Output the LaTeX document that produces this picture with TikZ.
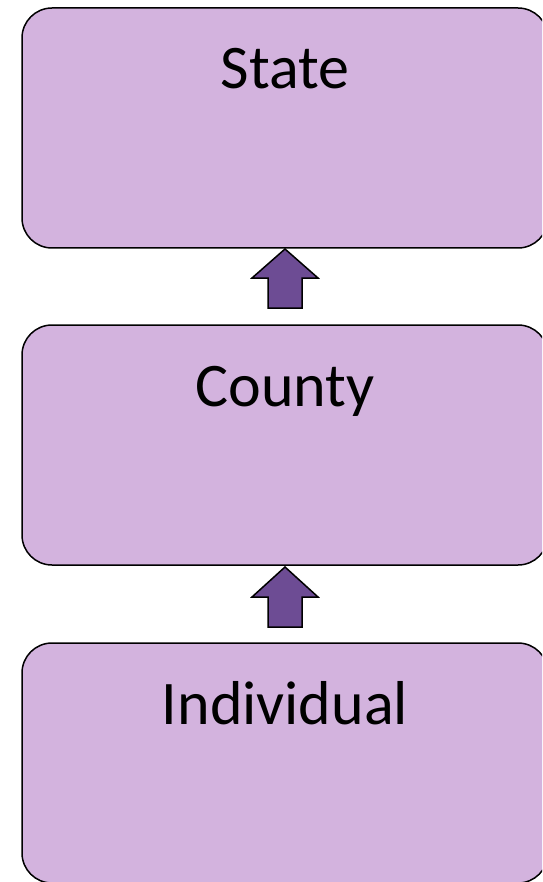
\documentclass[tikz,border=0pt]{standalone}
\usepackage{fontspec}
\setmainfont{Carlito}
\definecolor{boxfill}{HTML}{D3B3DE}
\definecolor{arrowfill}{HTML}{6D4C94}
\begin{document}
\begin{tikzpicture}[x=1pt,y=-1pt,
  levelbox/.style={draw=black,line width=1.5pt,fill=boxfill,rounded corners=30pt},
  uparrow/.style={draw=black,line width=1.5pt,fill=arrowfill,line join=miter},
  lbl/.style={anchor=base,font=\fontsize{62}{70}\selectfont,inner sep=0pt}]
\useasboundingbox (0,0) rectangle (542,882);
\clip (0,0) rectangle (542,882);
\draw[levelbox] (22,8) rectangle (548,248);
\draw[levelbox] (22,325) rectangle (548,565);
\draw[levelbox] (22,643) rectangle (548,883);
\node[lbl] (state) at (285,89) {State};
\node[lbl] (county) at (285,406) {County};
\node[lbl] (indiv) at (285,724) {Individual};
\draw[uparrow] (285,249) -- (318,278) -- (302,278) -- (302,308) -- (268,308) -- (268,278) -- (252,278) -- cycle;
\draw[uparrow] (285,567) -- (318,597) -- (302,597) -- (302,627) -- (268,627) -- (268,597) -- (252,597) -- cycle;
\end{tikzpicture}
\end{document}
